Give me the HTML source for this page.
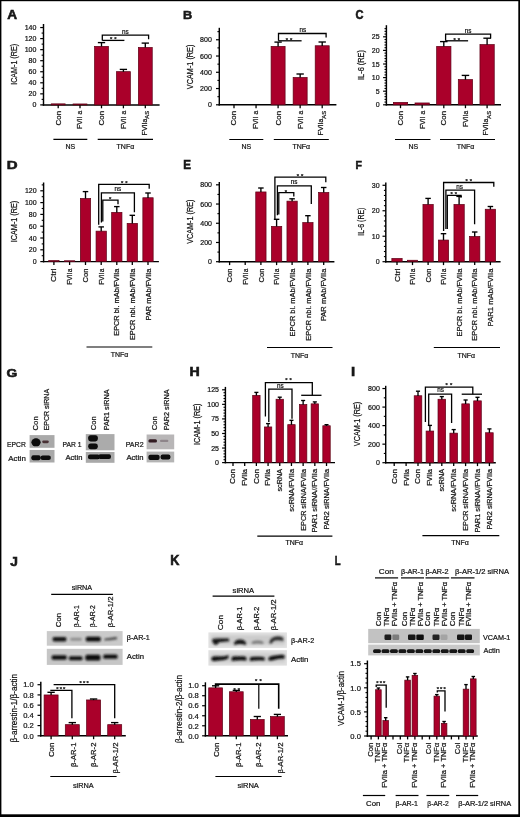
<!DOCTYPE html><html><head><meta charset="utf-8"><title>Figure</title><style>html,body{margin:0;padding:0;background:#fff;}svg{display:block;}text{font-family:"Liberation Sans", "DejaVu Sans", sans-serif;fill:#151515;stroke:#151515;stroke-width:0.22px;}</style></head><body>
<svg width="520" height="817" viewBox="0 0 520 817">
<defs>
<filter id="bl50" x="-30%" y="-60%" width="160%" height="220%"><feGaussianBlur stdDeviation="0.50"/></filter>
<filter id="bl55" x="-30%" y="-60%" width="160%" height="220%"><feGaussianBlur stdDeviation="0.55"/></filter>
<filter id="bl60" x="-30%" y="-60%" width="160%" height="220%"><feGaussianBlur stdDeviation="0.60"/></filter>
<filter id="bl80" x="-30%" y="-60%" width="160%" height="220%"><feGaussianBlur stdDeviation="0.80"/></filter>
<filter id="bl90" x="-30%" y="-60%" width="160%" height="220%"><feGaussianBlur stdDeviation="0.90"/></filter>
<filter id="bl120" x="-30%" y="-60%" width="160%" height="220%"><feGaussianBlur stdDeviation="1.20"/></filter>
<filter id="bl150" x="-30%" y="-60%" width="160%" height="220%"><feGaussianBlur stdDeviation="1.50"/></filter>
<filter id="gb" x="0" y="0" width="520" height="817" filterUnits="userSpaceOnUse"><feGaussianBlur stdDeviation="0.4"/></filter>
</defs>
<rect x="0" y="0" width="520" height="817" fill="#fff"/>
<g filter="url(#gb)">
<g>
<text transform="translate(7.18 19.05) scale(1.072 1)" font-size="12.75" font-weight="bold" style="stroke-width:0.55px">A</text>
<text transform="translate(17.3 64.4) rotate(-90)" font-size="8.5" text-anchor="middle" textLength="40.8" lengthAdjust="spacingAndGlyphs">ICAM-1 (RE)</text>
<path d="M43.5 24L43.5 105.62" stroke="#000" stroke-width="1.45"/>
<path d="M40.2 104.9L43.5 104.9" stroke="#000" stroke-width="1.2"/>
<text x="36.4" y="107.42" font-size="7" text-anchor="end">0</text>
<path d="M40.2 93.85L43.5 93.85" stroke="#000" stroke-width="1.2"/>
<text x="36.4" y="96.37" font-size="7" text-anchor="end">20</text>
<path d="M40.2 82.8L43.5 82.8" stroke="#000" stroke-width="1.2"/>
<text x="36.4" y="85.32" font-size="7" text-anchor="end">40</text>
<path d="M40.2 71.75L43.5 71.75" stroke="#000" stroke-width="1.2"/>
<text x="36.4" y="74.27" font-size="7" text-anchor="end">60</text>
<path d="M40.2 60.7L43.5 60.7" stroke="#000" stroke-width="1.2"/>
<text x="36.4" y="63.22" font-size="7" text-anchor="end">80</text>
<path d="M40.2 49.65L43.5 49.65" stroke="#000" stroke-width="1.2"/>
<text x="36.4" y="52.17" font-size="7" text-anchor="end">100</text>
<path d="M40.2 38.6L43.5 38.6" stroke="#000" stroke-width="1.2"/>
<text x="36.4" y="41.12" font-size="7" text-anchor="end">120</text>
<path d="M40.2 27.55L43.5 27.55" stroke="#000" stroke-width="1.2"/>
<text x="36.4" y="30.07" font-size="7" text-anchor="end">140</text>
<path d="M41.6 99.38L43.5 99.38" stroke="#000" stroke-width="1.1"/>
<path d="M41.6 88.33L43.5 88.33" stroke="#000" stroke-width="1.1"/>
<path d="M41.6 77.28L43.5 77.28" stroke="#000" stroke-width="1.1"/>
<path d="M41.6 66.23L43.5 66.23" stroke="#000" stroke-width="1.1"/>
<path d="M41.6 55.18L43.5 55.18" stroke="#000" stroke-width="1.1"/>
<path d="M41.6 44.13L43.5 44.13" stroke="#000" stroke-width="1.1"/>
<path d="M41.6 33.08L43.5 33.08" stroke="#000" stroke-width="1.1"/>
<path d="M42.77 104.9L159.6 104.9" stroke="#000" stroke-width="1.45"/>
<path d="M58.2 104.9L58.2 108.3" stroke="#000" stroke-width="1.3"/>
<path d="M80 104.9L80 108.3" stroke="#000" stroke-width="1.3"/>
<path d="M101.5 104.9L101.5 108.3" stroke="#000" stroke-width="1.3"/>
<path d="M123.4 104.9L123.4 108.3" stroke="#000" stroke-width="1.3"/>
<path d="M145.3 104.9L145.3 108.3" stroke="#000" stroke-width="1.3"/>
<rect x="51.25" y="103.85" width="13.9" height="1.05" fill="#aa032c" stroke="#5c0716" stroke-width="0.7"/>
<rect x="73.05" y="103.95" width="13.9" height="0.95" fill="#aa032c" stroke="#5c0716" stroke-width="0.7"/>
<rect x="94.55" y="46.35" width="13.9" height="58.55" fill="#aa032c" stroke="#5c0716" stroke-width="0.7"/>
<path d="M101.5 46.5L101.5 42.6" stroke="#000" stroke-width="1.35"/>
<path d="M97.85 42.6L105.15 42.6" stroke="#000" stroke-width="1.35"/>
<rect x="116.45" y="71.65" width="13.9" height="33.25" fill="#aa032c" stroke="#5c0716" stroke-width="0.7"/>
<path d="M123.4 71.8L123.4 69.4" stroke="#000" stroke-width="1.35"/>
<path d="M119.75 69.4L127.05 69.4" stroke="#000" stroke-width="1.35"/>
<rect x="138.35" y="47.45" width="13.9" height="57.45" fill="#aa032c" stroke="#5c0716" stroke-width="0.7"/>
<path d="M145.3 47.6L145.3 43.1" stroke="#000" stroke-width="1.35"/>
<path d="M141.65 43.1L148.95 43.1" stroke="#000" stroke-width="1.35"/>
<text transform="translate(60.6 110.8) rotate(-90)" font-size="7" text-anchor="end" textLength="14.6" lengthAdjust="spacingAndGlyphs">Con</text>
<text transform="translate(82.4 110.8) rotate(-90)" font-size="7" text-anchor="end" textLength="18.1" lengthAdjust="spacingAndGlyphs">FVII a</text>
<text transform="translate(103.9 110.8) rotate(-90)" font-size="7" text-anchor="end" textLength="14.6" lengthAdjust="spacingAndGlyphs">Con</text>
<text transform="translate(125.8 110.8) rotate(-90)" font-size="7" text-anchor="end" textLength="18.1" lengthAdjust="spacingAndGlyphs">FVII a</text>
<text transform="translate(146.5 110.8) rotate(-90)" font-size="7" text-anchor="end">FVIIa<tspan font-size="5.9" dy="2.6">AS</tspan></text>
<path d="M53.4 139.3L87.3 139.3" stroke="#000" stroke-width="1.2"/>
<path d="M97.7 139.3L153 139.3" stroke="#000" stroke-width="1.2"/>
<text x="70.3" y="148.6" font-size="7" text-anchor="middle">NS</text>
<text x="125.4" y="148.6" font-size="7" text-anchor="middle">TNF&#945;</text>
<path d="M102.3 40.4V35.1H148.6V39.2" stroke="#000" stroke-width="1.3" fill="none"/>
<path d="M102.3 40.4L124.4 40.4" stroke="#000" stroke-width="1.3"/>
<text x="125.4" y="33.5" font-size="6.3" text-anchor="middle">ns</text>
<text x="113.2" y="41.16" font-size="5.8" font-weight="bold" text-anchor="middle" textLength="6.6" lengthAdjust="spacing">**</text>
</g>
<g>
<text transform="translate(183.09 19.05) scale(1.085 1)" font-size="11.74" font-weight="bold" style="stroke-width:0.55px">B</text>
<text transform="translate(193 66.9) rotate(-90)" font-size="8.5" text-anchor="middle" textLength="44.6" lengthAdjust="spacingAndGlyphs">VCAM-1 (RE)</text>
<path d="M219.3 27.8L219.3 105.52" stroke="#000" stroke-width="1.45"/>
<path d="M216 104.8L219.3 104.8" stroke="#000" stroke-width="1.2"/>
<text x="211.8" y="107.32" font-size="7" text-anchor="end">0</text>
<path d="M216 88.54L219.3 88.54" stroke="#000" stroke-width="1.2"/>
<text x="211.8" y="91.06" font-size="7" text-anchor="end">200</text>
<path d="M216 72.28L219.3 72.28" stroke="#000" stroke-width="1.2"/>
<text x="211.8" y="74.8" font-size="7" text-anchor="end">400</text>
<path d="M216 56.02L219.3 56.02" stroke="#000" stroke-width="1.2"/>
<text x="211.8" y="58.54" font-size="7" text-anchor="end">600</text>
<path d="M216 39.76L219.3 39.76" stroke="#000" stroke-width="1.2"/>
<text x="211.8" y="42.28" font-size="7" text-anchor="end">800</text>
<path d="M217.4 96.67L219.3 96.67" stroke="#000" stroke-width="1.1"/>
<path d="M217.4 80.41L219.3 80.41" stroke="#000" stroke-width="1.1"/>
<path d="M217.4 64.15L219.3 64.15" stroke="#000" stroke-width="1.1"/>
<path d="M217.4 47.89L219.3 47.89" stroke="#000" stroke-width="1.1"/>
<path d="M217.4 31.63L219.3 31.63" stroke="#000" stroke-width="1.1"/>
<path d="M218.58 104.8L336.4 104.8" stroke="#000" stroke-width="1.45"/>
<path d="M234 104.8L234 108.2" stroke="#000" stroke-width="1.3"/>
<path d="M256.05 104.8L256.05 108.2" stroke="#000" stroke-width="1.3"/>
<path d="M278.1 104.8L278.1 108.2" stroke="#000" stroke-width="1.3"/>
<path d="M300.15 104.8L300.15 108.2" stroke="#000" stroke-width="1.3"/>
<path d="M322.2 104.8L322.2 108.2" stroke="#000" stroke-width="1.3"/>
<rect x="271.1" y="46.35" width="14" height="58.45" fill="#aa032c" stroke="#5c0716" stroke-width="0.7"/>
<path d="M278.1 46.5L278.1 42.1" stroke="#000" stroke-width="1.35"/>
<path d="M274.43 42.1L281.78 42.1" stroke="#000" stroke-width="1.35"/>
<rect x="293.15" y="77.45" width="14" height="27.35" fill="#aa032c" stroke="#5c0716" stroke-width="0.7"/>
<path d="M300.15 77.6L300.15 74" stroke="#000" stroke-width="1.35"/>
<path d="M296.47 74L303.82 74" stroke="#000" stroke-width="1.35"/>
<rect x="315.2" y="45.75" width="14" height="59.05" fill="#aa032c" stroke="#5c0716" stroke-width="0.7"/>
<path d="M322.2 45.9L322.2 42" stroke="#000" stroke-width="1.35"/>
<path d="M318.52 42L325.88 42" stroke="#000" stroke-width="1.35"/>
<text transform="translate(236.4 110.8) rotate(-90)" font-size="7" text-anchor="end" textLength="14.6" lengthAdjust="spacingAndGlyphs">Con</text>
<text transform="translate(258.45 110.8) rotate(-90)" font-size="7" text-anchor="end" textLength="18.1" lengthAdjust="spacingAndGlyphs">FVII a</text>
<text transform="translate(280.5 110.8) rotate(-90)" font-size="7" text-anchor="end" textLength="14.6" lengthAdjust="spacingAndGlyphs">Con</text>
<text transform="translate(302.55 110.8) rotate(-90)" font-size="7" text-anchor="end" textLength="18.1" lengthAdjust="spacingAndGlyphs">FVII a</text>
<text transform="translate(323.4 110.8) rotate(-90)" font-size="7" text-anchor="end">FVIIa<tspan font-size="5.9" dy="2.6">AS</tspan></text>
<path d="M229.3 139.5L263.3 139.5" stroke="#000" stroke-width="1.2"/>
<path d="M273.8 139.5L328.8 139.5" stroke="#000" stroke-width="1.2"/>
<text x="246.3" y="148.8" font-size="7" text-anchor="middle">NS</text>
<text x="301.3" y="148.8" font-size="7" text-anchor="middle">TNF&#945;</text>
<path d="M278.5 40.8V33.5H326.1V37.5" stroke="#000" stroke-width="1.3" fill="none"/>
<path d="M278.5 40.8L301.6 40.8" stroke="#000" stroke-width="1.3"/>
<text x="302.8" y="31.9" font-size="6.3" text-anchor="middle">ns</text>
<text x="289" y="41.56" font-size="5.8" font-weight="bold" text-anchor="middle" textLength="6.6" lengthAdjust="spacing">**</text>
</g>
<g>
<text transform="translate(355.51 19.15) scale(0.931 1)" font-size="11.88" font-weight="bold" style="stroke-width:0.55px">C</text>
<text transform="translate(364 65) rotate(-90)" font-size="8.5" text-anchor="middle" textLength="30" lengthAdjust="spacingAndGlyphs">IL-6 (RE)</text>
<path d="M386.4 25.2L386.4 105.52" stroke="#000" stroke-width="1.45"/>
<path d="M383.1 104.8L386.4 104.8" stroke="#000" stroke-width="1.2"/>
<text x="379.6" y="107.32" font-size="7" text-anchor="end">0</text>
<path d="M383.1 91.2L386.4 91.2" stroke="#000" stroke-width="1.2"/>
<text x="379.6" y="93.72" font-size="7" text-anchor="end">5</text>
<path d="M383.1 77.6L386.4 77.6" stroke="#000" stroke-width="1.2"/>
<text x="379.6" y="80.12" font-size="7" text-anchor="end">10</text>
<path d="M383.1 64L386.4 64" stroke="#000" stroke-width="1.2"/>
<text x="379.6" y="66.52" font-size="7" text-anchor="end">15</text>
<path d="M383.1 50.4L386.4 50.4" stroke="#000" stroke-width="1.2"/>
<text x="379.6" y="52.92" font-size="7" text-anchor="end">20</text>
<path d="M383.1 36.8L386.4 36.8" stroke="#000" stroke-width="1.2"/>
<text x="379.6" y="39.32" font-size="7" text-anchor="end">25</text>
<path d="M384.5 102.08L386.4 102.08" stroke="#000" stroke-width="1.1"/>
<path d="M384.5 99.36L386.4 99.36" stroke="#000" stroke-width="1.1"/>
<path d="M384.5 96.64L386.4 96.64" stroke="#000" stroke-width="1.1"/>
<path d="M384.5 93.92L386.4 93.92" stroke="#000" stroke-width="1.1"/>
<path d="M384.5 88.48L386.4 88.48" stroke="#000" stroke-width="1.1"/>
<path d="M384.5 85.76L386.4 85.76" stroke="#000" stroke-width="1.1"/>
<path d="M384.5 83.04L386.4 83.04" stroke="#000" stroke-width="1.1"/>
<path d="M384.5 80.32L386.4 80.32" stroke="#000" stroke-width="1.1"/>
<path d="M384.5 74.88L386.4 74.88" stroke="#000" stroke-width="1.1"/>
<path d="M384.5 72.16L386.4 72.16" stroke="#000" stroke-width="1.1"/>
<path d="M384.5 69.44L386.4 69.44" stroke="#000" stroke-width="1.1"/>
<path d="M384.5 66.72L386.4 66.72" stroke="#000" stroke-width="1.1"/>
<path d="M384.5 61.28L386.4 61.28" stroke="#000" stroke-width="1.1"/>
<path d="M384.5 58.56L386.4 58.56" stroke="#000" stroke-width="1.1"/>
<path d="M384.5 55.84L386.4 55.84" stroke="#000" stroke-width="1.1"/>
<path d="M384.5 53.12L386.4 53.12" stroke="#000" stroke-width="1.1"/>
<path d="M384.5 47.68L386.4 47.68" stroke="#000" stroke-width="1.1"/>
<path d="M384.5 44.96L386.4 44.96" stroke="#000" stroke-width="1.1"/>
<path d="M384.5 42.24L386.4 42.24" stroke="#000" stroke-width="1.1"/>
<path d="M384.5 39.52L386.4 39.52" stroke="#000" stroke-width="1.1"/>
<path d="M384.5 34.08L386.4 34.08" stroke="#000" stroke-width="1.1"/>
<path d="M384.5 31.36L386.4 31.36" stroke="#000" stroke-width="1.1"/>
<path d="M384.5 28.64L386.4 28.64" stroke="#000" stroke-width="1.1"/>
<path d="M385.67 104.8L501 104.8" stroke="#000" stroke-width="1.45"/>
<path d="M400.5 104.8L400.5 108.2" stroke="#000" stroke-width="1.3"/>
<path d="M422.15 104.8L422.15 108.2" stroke="#000" stroke-width="1.3"/>
<path d="M443.8 104.8L443.8 108.2" stroke="#000" stroke-width="1.3"/>
<path d="M465.45 104.8L465.45 108.2" stroke="#000" stroke-width="1.3"/>
<path d="M487.1 104.8L487.1 108.2" stroke="#000" stroke-width="1.3"/>
<rect x="393.35" y="102.35" width="14.3" height="2.45" fill="#aa032c" stroke="#5c0716" stroke-width="0.7"/>
<rect x="415" y="102.95" width="14.3" height="1.85" fill="#aa032c" stroke="#5c0716" stroke-width="0.7"/>
<rect x="436.65" y="46.35" width="14.3" height="58.45" fill="#aa032c" stroke="#5c0716" stroke-width="0.7"/>
<path d="M443.8 46.5L443.8 41.6" stroke="#000" stroke-width="1.35"/>
<path d="M440.05 41.6L447.55 41.6" stroke="#000" stroke-width="1.35"/>
<rect x="458.3" y="79.55" width="14.3" height="25.25" fill="#aa032c" stroke="#5c0716" stroke-width="0.7"/>
<path d="M465.45 79.7L465.45 75.4" stroke="#000" stroke-width="1.35"/>
<path d="M461.7 75.4L469.2 75.4" stroke="#000" stroke-width="1.35"/>
<rect x="479.95" y="44.55" width="14.3" height="60.25" fill="#aa032c" stroke="#5c0716" stroke-width="0.7"/>
<path d="M487.1 44.7L487.1 38.2" stroke="#000" stroke-width="1.35"/>
<path d="M483.35 38.2L490.85 38.2" stroke="#000" stroke-width="1.35"/>
<text transform="translate(402.9 110.8) rotate(-90)" font-size="7" text-anchor="end" textLength="14.6" lengthAdjust="spacingAndGlyphs">Con</text>
<text transform="translate(424.55 110.8) rotate(-90)" font-size="7" text-anchor="end" textLength="18.1" lengthAdjust="spacingAndGlyphs">FVII a</text>
<text transform="translate(446.2 110.8) rotate(-90)" font-size="7" text-anchor="end" textLength="14.6" lengthAdjust="spacingAndGlyphs">Con</text>
<text transform="translate(467.85 110.8) rotate(-90)" font-size="7" text-anchor="end" textLength="16.2" lengthAdjust="spacingAndGlyphs">FVIIa</text>
<text transform="translate(488.3 110.8) rotate(-90)" font-size="7" text-anchor="end">FVIIa<tspan font-size="5.9" dy="2.6">AS</tspan></text>
<path d="M395 139.5L430.5 139.5" stroke="#000" stroke-width="1.2"/>
<path d="M440 139.5L495 139.5" stroke="#000" stroke-width="1.2"/>
<text x="413.3" y="148.8" font-size="7" text-anchor="middle">NS</text>
<text x="465.5" y="148.8" font-size="7" text-anchor="middle">TNF&#945;</text>
<path d="M445.6 40.8V34.2H490.6V38.4" stroke="#000" stroke-width="1.3" fill="none"/>
<path d="M445.6 40.8L468.1 40.8" stroke="#000" stroke-width="1.3"/>
<text x="468" y="32.6" font-size="6.3" text-anchor="middle">ns</text>
<text x="456.8" y="41.56" font-size="5.8" font-weight="bold" text-anchor="middle" textLength="6.6" lengthAdjust="spacing">**</text>
</g>
<g>
<text transform="translate(6.75 168.65) scale(1.278 1)" font-size="11.74" font-weight="bold" style="stroke-width:0.55px">D</text>
<text transform="translate(17 221.5) rotate(-90)" font-size="8.5" text-anchor="middle" textLength="41.5" lengthAdjust="spacingAndGlyphs">ICAM-1 (RE)</text>
<path d="M43.6 182.5L43.6 262.33" stroke="#000" stroke-width="1.45"/>
<path d="M40.3 261.6L43.6 261.6" stroke="#000" stroke-width="1.2"/>
<text x="36.6" y="264.12" font-size="7" text-anchor="end">0</text>
<path d="M40.3 249.8L43.6 249.8" stroke="#000" stroke-width="1.2"/>
<text x="36.6" y="252.32" font-size="7" text-anchor="end">20</text>
<path d="M40.3 238L43.6 238" stroke="#000" stroke-width="1.2"/>
<text x="36.6" y="240.52" font-size="7" text-anchor="end">40</text>
<path d="M40.3 226.2L43.6 226.2" stroke="#000" stroke-width="1.2"/>
<text x="36.6" y="228.72" font-size="7" text-anchor="end">60</text>
<path d="M40.3 214.4L43.6 214.4" stroke="#000" stroke-width="1.2"/>
<text x="36.6" y="216.92" font-size="7" text-anchor="end">80</text>
<path d="M40.3 202.6L43.6 202.6" stroke="#000" stroke-width="1.2"/>
<text x="36.6" y="205.12" font-size="7" text-anchor="end">100</text>
<path d="M40.3 190.8L43.6 190.8" stroke="#000" stroke-width="1.2"/>
<text x="36.6" y="193.32" font-size="7" text-anchor="end">120</text>
<path d="M41.7 255.7L43.6 255.7" stroke="#000" stroke-width="1.1"/>
<path d="M41.7 243.9L43.6 243.9" stroke="#000" stroke-width="1.1"/>
<path d="M41.7 232.1L43.6 232.1" stroke="#000" stroke-width="1.1"/>
<path d="M41.7 220.3L43.6 220.3" stroke="#000" stroke-width="1.1"/>
<path d="M41.7 208.5L43.6 208.5" stroke="#000" stroke-width="1.1"/>
<path d="M41.7 196.7L43.6 196.7" stroke="#000" stroke-width="1.1"/>
<path d="M41.7 184.9L43.6 184.9" stroke="#000" stroke-width="1.1"/>
<path d="M42.88 261.6L158.9 261.6" stroke="#000" stroke-width="1.45"/>
<path d="M53.9 261.6L53.9 265" stroke="#000" stroke-width="1.3"/>
<path d="M69.6 261.6L69.6 265" stroke="#000" stroke-width="1.3"/>
<path d="M85.5 261.6L85.5 265" stroke="#000" stroke-width="1.3"/>
<path d="M101.2 261.6L101.2 265" stroke="#000" stroke-width="1.3"/>
<path d="M116.8 261.6L116.8 265" stroke="#000" stroke-width="1.3"/>
<path d="M132.3 261.6L132.3 265" stroke="#000" stroke-width="1.3"/>
<path d="M148 261.6L148 265" stroke="#000" stroke-width="1.3"/>
<rect x="48.75" y="260.55" width="10.3" height="1.05" fill="#aa032c" stroke="#5c0716" stroke-width="0.7"/>
<rect x="64.45" y="260.75" width="10.3" height="0.85" fill="#aa032c" stroke="#5c0716" stroke-width="0.7"/>
<rect x="80.35" y="198.45" width="10.3" height="63.15" fill="#aa032c" stroke="#5c0716" stroke-width="0.7"/>
<path d="M85.5 198.6L85.5 191.6" stroke="#000" stroke-width="1.35"/>
<path d="M82.75 191.6L88.25 191.6" stroke="#000" stroke-width="1.35"/>
<rect x="96.05" y="231.15" width="10.3" height="30.45" fill="#aa032c" stroke="#5c0716" stroke-width="0.7"/>
<path d="M101.2 231.3L101.2 226.9" stroke="#000" stroke-width="1.35"/>
<path d="M98.45 226.9L103.95 226.9" stroke="#000" stroke-width="1.35"/>
<rect x="111.65" y="212.35" width="10.3" height="49.25" fill="#aa032c" stroke="#5c0716" stroke-width="0.7"/>
<path d="M116.8 212.5L116.8 206.6" stroke="#000" stroke-width="1.35"/>
<path d="M114.05 206.6L119.55 206.6" stroke="#000" stroke-width="1.35"/>
<rect x="127.15" y="223.35" width="10.3" height="38.25" fill="#aa032c" stroke="#5c0716" stroke-width="0.7"/>
<path d="M132.3 223.5L132.3 215.3" stroke="#000" stroke-width="1.35"/>
<path d="M129.55 215.3L135.05 215.3" stroke="#000" stroke-width="1.35"/>
<rect x="142.85" y="197.75" width="10.3" height="63.85" fill="#aa032c" stroke="#5c0716" stroke-width="0.7"/>
<path d="M148 197.9L148 193" stroke="#000" stroke-width="1.35"/>
<path d="M145.25 193L150.75 193" stroke="#000" stroke-width="1.35"/>
<text transform="translate(56.4 268.6) rotate(-90)" font-size="7.2" text-anchor="end" textLength="13.3" lengthAdjust="spacingAndGlyphs">Ctrl</text>
<text transform="translate(72.1 268.6) rotate(-90)" font-size="7.2" text-anchor="end" textLength="16.2" lengthAdjust="spacingAndGlyphs">FVIIa</text>
<text transform="translate(88 268.6) rotate(-90)" font-size="7.2" text-anchor="end" textLength="13.9" lengthAdjust="spacingAndGlyphs">Con</text>
<text transform="translate(103.7 268.6) rotate(-90)" font-size="7.2" text-anchor="end" textLength="16.2" lengthAdjust="spacingAndGlyphs">FVIIa</text>
<text transform="translate(119.3 268.6) rotate(-90)" font-size="7.2" text-anchor="end" textLength="67.2" lengthAdjust="spacingAndGlyphs">EPCR bl. mAb/FVIIa</text>
<text transform="translate(134.8 268.6) rotate(-90)" font-size="7.2" text-anchor="end" textLength="71.5" lengthAdjust="spacingAndGlyphs">EPCR nbl. mAb/FVIIa</text>
<text transform="translate(150.5 268.6) rotate(-90)" font-size="7.2" text-anchor="end" textLength="51.9" lengthAdjust="spacingAndGlyphs">PAR mAb/FVIIa</text>
<path d="M86.5 347L152.3 347" stroke="#000" stroke-width="1.2"/>
<text x="119.5" y="357.4" font-size="7" text-anchor="middle">TNF&#945;</text>
<path d="M98.7 224.8V184.4H149.2V188.7" stroke="#000" stroke-width="1.3" fill="none"/>
<path d="M101.4 222.5V192.9H134.4V212.2" stroke="#000" stroke-width="1.3" fill="none"/>
<path d="M102.8 221.5V200.2H118.0V204.2" stroke="#000" stroke-width="1.3" fill="none"/>
<text x="124.2" y="185.06" font-size="5.8" font-weight="bold" text-anchor="middle" textLength="6.6" lengthAdjust="spacing">**</text>
<text x="117.8" y="190.8" font-size="6.3" text-anchor="middle">ns</text>
<text x="110.1" y="200.86" font-size="5.8" font-weight="bold" text-anchor="middle" textLength="3.3" lengthAdjust="spacing">*</text>
</g>
<g>
<text transform="translate(183.16 169.05) scale(0.963 1)" font-size="12.03" font-weight="bold" style="stroke-width:0.55px">E</text>
<text transform="translate(192.8 221.7) rotate(-90)" font-size="8.5" text-anchor="middle" textLength="44.2" lengthAdjust="spacingAndGlyphs">VCAM-1 (RE)</text>
<path d="M219.3 182L219.3 262.43" stroke="#000" stroke-width="1.45"/>
<path d="M216 261.7L219.3 261.7" stroke="#000" stroke-width="1.2"/>
<text x="212" y="264.22" font-size="7" text-anchor="end">0</text>
<path d="M216 242.48L219.3 242.48" stroke="#000" stroke-width="1.2"/>
<text x="212" y="245" font-size="7" text-anchor="end">200</text>
<path d="M216 223.26L219.3 223.26" stroke="#000" stroke-width="1.2"/>
<text x="212" y="225.78" font-size="7" text-anchor="end">400</text>
<path d="M216 204.04L219.3 204.04" stroke="#000" stroke-width="1.2"/>
<text x="212" y="206.56" font-size="7" text-anchor="end">600</text>
<path d="M216 184.82L219.3 184.82" stroke="#000" stroke-width="1.2"/>
<text x="212" y="187.34" font-size="7" text-anchor="end">800</text>
<path d="M217.4 252.09L219.3 252.09" stroke="#000" stroke-width="1.1"/>
<path d="M217.4 232.87L219.3 232.87" stroke="#000" stroke-width="1.1"/>
<path d="M217.4 213.65L219.3 213.65" stroke="#000" stroke-width="1.1"/>
<path d="M217.4 194.43L219.3 194.43" stroke="#000" stroke-width="1.1"/>
<path d="M218.58 261.7L334.4 261.7" stroke="#000" stroke-width="1.45"/>
<path d="M229.6 261.7L229.6 265.1" stroke="#000" stroke-width="1.3"/>
<path d="M245.2 261.7L245.2 265.1" stroke="#000" stroke-width="1.3"/>
<path d="M260.9 261.7L260.9 265.1" stroke="#000" stroke-width="1.3"/>
<path d="M276.6 261.7L276.6 265.1" stroke="#000" stroke-width="1.3"/>
<path d="M292.1 261.7L292.1 265.1" stroke="#000" stroke-width="1.3"/>
<path d="M307.9 261.7L307.9 265.1" stroke="#000" stroke-width="1.3"/>
<path d="M323.7 261.7L323.7 265.1" stroke="#000" stroke-width="1.3"/>
<rect x="255.75" y="191.95" width="10.3" height="69.75" fill="#aa032c" stroke="#5c0716" stroke-width="0.7"/>
<path d="M260.9 192.1L260.9 188" stroke="#000" stroke-width="1.35"/>
<path d="M258.15 188L263.65 188" stroke="#000" stroke-width="1.35"/>
<rect x="271.45" y="226.35" width="10.3" height="35.35" fill="#aa032c" stroke="#5c0716" stroke-width="0.7"/>
<path d="M276.6 226.5L276.6 219.3" stroke="#000" stroke-width="1.35"/>
<path d="M273.85 219.3L279.35 219.3" stroke="#000" stroke-width="1.35"/>
<rect x="286.95" y="201.15" width="10.3" height="60.55" fill="#aa032c" stroke="#5c0716" stroke-width="0.7"/>
<path d="M292.1 201.3L292.1 198.8" stroke="#000" stroke-width="1.35"/>
<path d="M289.35 198.8L294.85 198.8" stroke="#000" stroke-width="1.35"/>
<rect x="302.75" y="222.55" width="10.3" height="39.15" fill="#aa032c" stroke="#5c0716" stroke-width="0.7"/>
<path d="M307.9 222.7L307.9 215.7" stroke="#000" stroke-width="1.35"/>
<path d="M305.15 215.7L310.65 215.7" stroke="#000" stroke-width="1.35"/>
<rect x="318.55" y="192.45" width="10.3" height="69.25" fill="#aa032c" stroke="#5c0716" stroke-width="0.7"/>
<path d="M323.7 192.6L323.7 187.5" stroke="#000" stroke-width="1.35"/>
<path d="M320.95 187.5L326.45 187.5" stroke="#000" stroke-width="1.35"/>
<text transform="translate(232.2 268.6) rotate(-90)" font-size="7.2" text-anchor="end" textLength="13.9" lengthAdjust="spacingAndGlyphs">Con</text>
<text transform="translate(247.8 268.6) rotate(-90)" font-size="7.2" text-anchor="end" textLength="16.2" lengthAdjust="spacingAndGlyphs">FVIIa</text>
<text transform="translate(263.5 268.6) rotate(-90)" font-size="7.2" text-anchor="end" textLength="13.9" lengthAdjust="spacingAndGlyphs">Con</text>
<text transform="translate(279.2 268.6) rotate(-90)" font-size="7.2" text-anchor="end" textLength="16.2" lengthAdjust="spacingAndGlyphs">FVIIa</text>
<text transform="translate(294.7 268.6) rotate(-90)" font-size="7.2" text-anchor="end" textLength="67.8" lengthAdjust="spacingAndGlyphs">EPCR bl. mAb/FVIIa</text>
<text transform="translate(310.5 268.6) rotate(-90)" font-size="7.2" text-anchor="end" textLength="72.1" lengthAdjust="spacingAndGlyphs">EPCR nbl. mAb/FVIIa</text>
<text transform="translate(326.3 268.6) rotate(-90)" font-size="7.2" text-anchor="end" textLength="52.5" lengthAdjust="spacingAndGlyphs">PAR mAb/FVIIa</text>
<path d="M267 347.5L332.5 347.5" stroke="#000" stroke-width="1.2"/>
<text x="299.5" y="357.6" font-size="7" text-anchor="middle">TNF&#945;</text>
<path d="M274.9 219.4V177.2H325.8V182.2" stroke="#000" stroke-width="1.3" fill="none"/>
<path d="M277.4 215.2V185.8H311.3V203.9" stroke="#000" stroke-width="1.3" fill="none"/>
<path d="M278.8 214.4V192.6H293.8V196.6" stroke="#000" stroke-width="1.3" fill="none"/>
<text x="300" y="177.86" font-size="5.8" font-weight="bold" text-anchor="middle" textLength="6.6" lengthAdjust="spacing">**</text>
<text x="294" y="184.3" font-size="6.3" text-anchor="middle">ns</text>
<text x="286" y="193.96" font-size="5.8" font-weight="bold" text-anchor="middle" textLength="3.3" lengthAdjust="spacing">*</text>
</g>
<g>
<text transform="translate(355.62 169.05) scale(0.901 1)" font-size="11.74" font-weight="bold" style="stroke-width:0.55px">F</text>
<text transform="translate(364 221.7) rotate(-90)" font-size="8.5" text-anchor="middle" textLength="28.1" lengthAdjust="spacingAndGlyphs">IL-6 (RE)</text>
<path d="M385.8 182.5L385.8 262.43" stroke="#000" stroke-width="1.45"/>
<path d="M382.5 261.7L385.8 261.7" stroke="#000" stroke-width="1.2"/>
<text x="379.6" y="264.22" font-size="7" text-anchor="end">0</text>
<path d="M382.5 236.23L385.8 236.23" stroke="#000" stroke-width="1.2"/>
<text x="379.6" y="238.75" font-size="7" text-anchor="end">10</text>
<path d="M382.5 210.76L385.8 210.76" stroke="#000" stroke-width="1.2"/>
<text x="379.6" y="213.28" font-size="7" text-anchor="end">20</text>
<path d="M382.5 185.29L385.8 185.29" stroke="#000" stroke-width="1.2"/>
<text x="379.6" y="187.81" font-size="7" text-anchor="end">30</text>
<path d="M383.9 256.61L385.8 256.61" stroke="#000" stroke-width="1.1"/>
<path d="M383.9 251.51L385.8 251.51" stroke="#000" stroke-width="1.1"/>
<path d="M383.9 246.42L385.8 246.42" stroke="#000" stroke-width="1.1"/>
<path d="M383.9 241.32L385.8 241.32" stroke="#000" stroke-width="1.1"/>
<path d="M383.9 231.14L385.8 231.14" stroke="#000" stroke-width="1.1"/>
<path d="M383.9 226.04L385.8 226.04" stroke="#000" stroke-width="1.1"/>
<path d="M383.9 220.95L385.8 220.95" stroke="#000" stroke-width="1.1"/>
<path d="M383.9 215.85L385.8 215.85" stroke="#000" stroke-width="1.1"/>
<path d="M383.9 205.67L385.8 205.67" stroke="#000" stroke-width="1.1"/>
<path d="M383.9 200.57L385.8 200.57" stroke="#000" stroke-width="1.1"/>
<path d="M383.9 195.48L385.8 195.48" stroke="#000" stroke-width="1.1"/>
<path d="M383.9 190.38L385.8 190.38" stroke="#000" stroke-width="1.1"/>
<path d="M385.07 261.7L500.6 261.7" stroke="#000" stroke-width="1.45"/>
<path d="M397 261.7L397 265.1" stroke="#000" stroke-width="1.3"/>
<path d="M412.5 261.7L412.5 265.1" stroke="#000" stroke-width="1.3"/>
<path d="M428.1 261.7L428.1 265.1" stroke="#000" stroke-width="1.3"/>
<path d="M443.5 261.7L443.5 265.1" stroke="#000" stroke-width="1.3"/>
<path d="M459.1 261.7L459.1 265.1" stroke="#000" stroke-width="1.3"/>
<path d="M474.7 261.7L474.7 265.1" stroke="#000" stroke-width="1.3"/>
<path d="M490.4 261.7L490.4 265.1" stroke="#000" stroke-width="1.3"/>
<rect x="391.85" y="258.45" width="10.3" height="3.25" fill="#aa032c" stroke="#5c0716" stroke-width="0.7"/>
<rect x="407.35" y="260.25" width="10.3" height="1.45" fill="#aa032c" stroke="#5c0716" stroke-width="0.7"/>
<rect x="422.95" y="204.45" width="10.3" height="57.25" fill="#aa032c" stroke="#5c0716" stroke-width="0.7"/>
<path d="M428.1 204.6L428.1 198.4" stroke="#000" stroke-width="1.35"/>
<path d="M425.35 198.4L430.85 198.4" stroke="#000" stroke-width="1.35"/>
<rect x="438.35" y="240.05" width="10.3" height="21.65" fill="#aa032c" stroke="#5c0716" stroke-width="0.7"/>
<path d="M443.5 240.2L443.5 233.7" stroke="#000" stroke-width="1.35"/>
<path d="M440.75 233.7L446.25 233.7" stroke="#000" stroke-width="1.35"/>
<rect x="453.95" y="204.45" width="10.3" height="57.25" fill="#aa032c" stroke="#5c0716" stroke-width="0.7"/>
<path d="M459.1 204.6L459.1 196.4" stroke="#000" stroke-width="1.35"/>
<path d="M456.35 196.4L461.85 196.4" stroke="#000" stroke-width="1.35"/>
<rect x="469.55" y="236.45" width="10.3" height="25.25" fill="#aa032c" stroke="#5c0716" stroke-width="0.7"/>
<path d="M474.7 236.6L474.7 232" stroke="#000" stroke-width="1.35"/>
<path d="M471.95 232L477.45 232" stroke="#000" stroke-width="1.35"/>
<rect x="485.25" y="209.25" width="10.3" height="52.45" fill="#aa032c" stroke="#5c0716" stroke-width="0.7"/>
<path d="M490.4 209.4L490.4 206.5" stroke="#000" stroke-width="1.35"/>
<path d="M487.65 206.5L493.15 206.5" stroke="#000" stroke-width="1.35"/>
<text transform="translate(399.6 268.6) rotate(-90)" font-size="7.2" text-anchor="end" textLength="13.3" lengthAdjust="spacingAndGlyphs">Ctrl</text>
<text transform="translate(415.1 268.6) rotate(-90)" font-size="7.2" text-anchor="end" textLength="16.2" lengthAdjust="spacingAndGlyphs">FVIIa</text>
<text transform="translate(430.7 268.6) rotate(-90)" font-size="7.2" text-anchor="end" textLength="13.9" lengthAdjust="spacingAndGlyphs">Con</text>
<text transform="translate(446.1 268.6) rotate(-90)" font-size="7.2" text-anchor="end" textLength="16.2" lengthAdjust="spacingAndGlyphs">FVIIa</text>
<text transform="translate(461.7 268.6) rotate(-90)" font-size="7.2" text-anchor="end" textLength="67.8" lengthAdjust="spacingAndGlyphs">EPCR bl. mAb/FVIIa</text>
<text transform="translate(477.3 268.6) rotate(-90)" font-size="7.2" text-anchor="end" textLength="72.1" lengthAdjust="spacingAndGlyphs">EPCR nbl. mAb/FVIIa</text>
<text transform="translate(493 268.6) rotate(-90)" font-size="7.2" text-anchor="end" textLength="57.8" lengthAdjust="spacingAndGlyphs">PAR1 mAb/FVIIa</text>
<path d="M433.8 347.5L500 347.5" stroke="#000" stroke-width="1.2"/>
<text x="466.3" y="357.6" font-size="7" text-anchor="middle">TNF&#945;</text>
<path d="M443.6 231V182.5H493.8V186.8" stroke="#000" stroke-width="1.3" fill="none"/>
<path d="M445.9 229V190.2H474.6V224.2" stroke="#000" stroke-width="1.3" fill="none"/>
<path d="M447.3 229V195.4H461V197.8" stroke="#000" stroke-width="1.3" fill="none"/>
<text x="468.8" y="182.96" font-size="5.8" font-weight="bold" text-anchor="middle" textLength="6.6" lengthAdjust="spacing">**</text>
<text x="459.7" y="188.9" font-size="6.3" text-anchor="middle">ns</text>
<text x="453.7" y="196.16" font-size="5.8" font-weight="bold" text-anchor="middle" textLength="6.6" lengthAdjust="spacing">**</text>
</g>
<g>
<text transform="translate(6.5 376.65) scale(1.178 1)" font-size="11.74" font-weight="bold" style="stroke-width:0.55px">G</text>
<text transform="translate(37.6 430.5) rotate(-90)" font-size="7.2" textLength="14.2" lengthAdjust="spacingAndGlyphs">Con</text>
<text transform="translate(48.8 430.5) rotate(-90)" font-size="7.2" textLength="41.6" lengthAdjust="spacingAndGlyphs">EPCR siRNA</text>
<rect x="29.6" y="435.1" width="24.9" height="12.7" fill="#a9a9a9"/>
<rect x="29.6" y="450" width="24.9" height="12.5" fill="#a9a9a9"/>
<g filter="url(#bl50)">
<ellipse cx="36.0" cy="442.3" rx="4.6" ry="4.0" fill="#080808"/>
<rect x="42.2" y="440.5" width="6.6" height="2.7" rx="1.35" fill="#4a3036"/>
<rect x="31.4" y="455.2" width="9.2" height="5" rx="2" fill="#0a0a0a"/>
<rect x="40.6" y="455.4" width="10.2" height="4.6" rx="2" fill="#0a0a0a"/>
</g>
<text x="25.8" y="446.8" font-size="7.4" text-anchor="end" textLength="18.8" lengthAdjust="spacingAndGlyphs">EPCR</text>
<text x="25.8" y="461" font-size="7.4" text-anchor="end" textLength="17.6" lengthAdjust="spacingAndGlyphs">Actin</text>
<text transform="translate(96.2 430.3) rotate(-90)" font-size="7.2" textLength="14" lengthAdjust="spacingAndGlyphs">Con</text>
<text transform="translate(109 430.3) rotate(-90)" font-size="7.2" textLength="40.8" lengthAdjust="spacingAndGlyphs">PAR1 siRNA</text>
<rect x="85.8" y="434.1" width="28.7" height="16.2" fill="#ababab"/>
<rect x="85.8" y="452" width="28.7" height="10.8" fill="#a9a9a9"/>
<g filter="url(#bl50)">
<rect x="88.2" y="435.2" width="9.6" height="6.2" rx="2.4" fill="#080808"/>
<rect x="88.2" y="443.6" width="9.6" height="5.6" rx="2.4" fill="#080808"/>
<rect x="88" y="454.4" width="11.8" height="4.8" rx="2" fill="#080808"/>
<rect x="98.4" y="454.2" width="12.6" height="4.8" rx="2" fill="#0a0a0a"/>
</g>
<text x="81.6" y="446.9" font-size="7.4" text-anchor="end" textLength="19" lengthAdjust="spacingAndGlyphs">PAR 1</text>
<text x="82.4" y="460.4" font-size="7.4" text-anchor="end" textLength="17" lengthAdjust="spacingAndGlyphs">Actin</text>
<text transform="translate(156.9 430.3) rotate(-90)" font-size="7.2" textLength="14" lengthAdjust="spacingAndGlyphs">Con</text>
<text transform="translate(169.4 430.3) rotate(-90)" font-size="7.2" textLength="40.8" lengthAdjust="spacingAndGlyphs">PAR2 siRNA</text>
<rect x="146.6" y="434.5" width="27.6" height="14.8" fill="#b8b6b7"/>
<rect x="146.6" y="451.6" width="27.6" height="10.8" fill="#b4b4b4"/>
<g filter="url(#bl50)">
<rect x="148.4" y="439.3" width="8.6" height="3.2" rx="1.6" fill="#301a20"/>
<rect x="160" y="439.8" width="8.4" height="2.2" rx="1.1" fill="#8e858a"/>
<rect x="148.4" y="454.8" width="11.2" height="5.1" rx="2" fill="#080808"/>
<rect x="160.6" y="454.6" width="9.8" height="5" rx="2" fill="#080808"/>
</g>
<text x="143.6" y="446.9" font-size="7.4" text-anchor="end" textLength="17.9" lengthAdjust="spacingAndGlyphs">PAR2</text>
<text x="143.5" y="460.4" font-size="7.4" text-anchor="end" textLength="17.1" lengthAdjust="spacingAndGlyphs">Actin</text>
</g>
<g>
<text transform="translate(189.5 376.25) scale(1.192 1)" font-size="11.88" font-weight="bold" style="stroke-width:0.55px">H</text>
<text transform="translate(199.5 424.3) rotate(-90)" font-size="8.5" text-anchor="middle" textLength="41.5" lengthAdjust="spacingAndGlyphs">ICAM-1 (RE)</text>
<path d="M225.4 386.9L225.4 463.33" stroke="#000" stroke-width="1.45"/>
<path d="M222.1 462.6L225.4 462.6" stroke="#000" stroke-width="1.2"/>
<text x="219" y="465.12" font-size="7" text-anchor="end">0</text>
<path d="M222.1 448.04L225.4 448.04" stroke="#000" stroke-width="1.2"/>
<text x="219" y="450.56" font-size="7" text-anchor="end">25</text>
<path d="M222.1 433.48L225.4 433.48" stroke="#000" stroke-width="1.2"/>
<text x="219" y="436" font-size="7" text-anchor="end">50</text>
<path d="M222.1 418.91L225.4 418.91" stroke="#000" stroke-width="1.2"/>
<text x="219" y="421.43" font-size="7" text-anchor="end">75</text>
<path d="M222.1 404.35L225.4 404.35" stroke="#000" stroke-width="1.2"/>
<text x="219" y="406.87" font-size="7" text-anchor="end">100</text>
<path d="M222.1 389.79L225.4 389.79" stroke="#000" stroke-width="1.2"/>
<text x="219" y="392.31" font-size="7" text-anchor="end">125</text>
<path d="M223.5 459.69L225.4 459.69" stroke="#000" stroke-width="1.1"/>
<path d="M223.5 456.78L225.4 456.78" stroke="#000" stroke-width="1.1"/>
<path d="M223.5 453.86L225.4 453.86" stroke="#000" stroke-width="1.1"/>
<path d="M223.5 450.95L225.4 450.95" stroke="#000" stroke-width="1.1"/>
<path d="M223.5 445.12L225.4 445.12" stroke="#000" stroke-width="1.1"/>
<path d="M223.5 442.21L225.4 442.21" stroke="#000" stroke-width="1.1"/>
<path d="M223.5 439.3L225.4 439.3" stroke="#000" stroke-width="1.1"/>
<path d="M223.5 436.39L225.4 436.39" stroke="#000" stroke-width="1.1"/>
<path d="M223.5 430.56L225.4 430.56" stroke="#000" stroke-width="1.1"/>
<path d="M223.5 427.65L225.4 427.65" stroke="#000" stroke-width="1.1"/>
<path d="M223.5 424.74L225.4 424.74" stroke="#000" stroke-width="1.1"/>
<path d="M223.5 421.83L225.4 421.83" stroke="#000" stroke-width="1.1"/>
<path d="M223.5 416L225.4 416" stroke="#000" stroke-width="1.1"/>
<path d="M223.5 413.09L225.4 413.09" stroke="#000" stroke-width="1.1"/>
<path d="M223.5 410.18L225.4 410.18" stroke="#000" stroke-width="1.1"/>
<path d="M223.5 407.26L225.4 407.26" stroke="#000" stroke-width="1.1"/>
<path d="M223.5 401.44L225.4 401.44" stroke="#000" stroke-width="1.1"/>
<path d="M223.5 398.53L225.4 398.53" stroke="#000" stroke-width="1.1"/>
<path d="M223.5 395.61L225.4 395.61" stroke="#000" stroke-width="1.1"/>
<path d="M223.5 392.7L225.4 392.7" stroke="#000" stroke-width="1.1"/>
<path d="M224.68 462.6L335 462.6" stroke="#000" stroke-width="1.45"/>
<path d="M233 462.6L233 466" stroke="#000" stroke-width="1.3"/>
<path d="M244.69 462.6L244.69 466" stroke="#000" stroke-width="1.3"/>
<path d="M256.38 462.6L256.38 466" stroke="#000" stroke-width="1.3"/>
<path d="M268.07 462.6L268.07 466" stroke="#000" stroke-width="1.3"/>
<path d="M279.76 462.6L279.76 466" stroke="#000" stroke-width="1.3"/>
<path d="M291.45 462.6L291.45 466" stroke="#000" stroke-width="1.3"/>
<path d="M303.14 462.6L303.14 466" stroke="#000" stroke-width="1.3"/>
<path d="M314.83 462.6L314.83 466" stroke="#000" stroke-width="1.3"/>
<path d="M326.52 462.6L326.52 466" stroke="#000" stroke-width="1.3"/>
<rect x="252.68" y="395.35" width="7.4" height="67.25" fill="#aa032c" stroke="#5c0716" stroke-width="0.7"/>
<path d="M256.38 395.5L256.38 392.4" stroke="#000" stroke-width="1.35"/>
<path d="M254.35 392.4L258.4 392.4" stroke="#000" stroke-width="1.35"/>
<rect x="264.37" y="426.95" width="7.4" height="35.65" fill="#aa032c" stroke="#5c0716" stroke-width="0.7"/>
<path d="M268.07 427.1L268.07 423.6" stroke="#000" stroke-width="1.35"/>
<path d="M266.05 423.6L270.09 423.6" stroke="#000" stroke-width="1.35"/>
<rect x="276.06" y="399.25" width="7.4" height="63.35" fill="#aa032c" stroke="#5c0716" stroke-width="0.7"/>
<path d="M279.76 399.4L279.76 397.2" stroke="#000" stroke-width="1.35"/>
<path d="M277.74 397.2L281.78 397.2" stroke="#000" stroke-width="1.35"/>
<rect x="287.75" y="424.65" width="7.4" height="37.95" fill="#aa032c" stroke="#5c0716" stroke-width="0.7"/>
<path d="M291.45 424.8L291.45 420.3" stroke="#000" stroke-width="1.35"/>
<path d="M289.43 420.3L293.47 420.3" stroke="#000" stroke-width="1.35"/>
<rect x="299.44" y="404.55" width="7.4" height="58.05" fill="#aa032c" stroke="#5c0716" stroke-width="0.7"/>
<path d="M303.14 404.7L303.14 400.5" stroke="#000" stroke-width="1.35"/>
<path d="M301.12 400.5L305.16 400.5" stroke="#000" stroke-width="1.35"/>
<rect x="311.13" y="403.85" width="7.4" height="58.75" fill="#aa032c" stroke="#5c0716" stroke-width="0.7"/>
<path d="M314.83 404L314.83 401.9" stroke="#000" stroke-width="1.35"/>
<path d="M312.81 401.9L316.85 401.9" stroke="#000" stroke-width="1.35"/>
<rect x="322.82" y="425.75" width="7.4" height="36.85" fill="#aa032c" stroke="#5c0716" stroke-width="0.7"/>
<path d="M326.52 425.9L326.52 424.7" stroke="#000" stroke-width="1.35"/>
<path d="M324.5 424.7L328.54 424.7" stroke="#000" stroke-width="1.35"/>
<text transform="translate(235.4 469) rotate(-90)" font-size="7" text-anchor="end" textLength="15" lengthAdjust="spacingAndGlyphs">Con</text>
<text transform="translate(247.09 469) rotate(-90)" font-size="7" text-anchor="end" textLength="16.7" lengthAdjust="spacingAndGlyphs">FVIIa</text>
<text transform="translate(258.78 469) rotate(-90)" font-size="7" text-anchor="end" textLength="15" lengthAdjust="spacingAndGlyphs">Con</text>
<text transform="translate(270.47 469) rotate(-90)" font-size="7" text-anchor="end" textLength="16.7" lengthAdjust="spacingAndGlyphs">FVIIa</text>
<text transform="translate(282.16 469) rotate(-90)" font-size="7" text-anchor="end" textLength="22.5" lengthAdjust="spacingAndGlyphs">scRNA</text>
<text transform="translate(293.85 469) rotate(-90)" font-size="7" text-anchor="end" textLength="42.7" lengthAdjust="spacingAndGlyphs">scRNA/FVIIa</text>
<text transform="translate(305.54 469) rotate(-90)" font-size="7" text-anchor="end" textLength="61.7" lengthAdjust="spacingAndGlyphs">EPCR siRNA/FVIIa</text>
<text transform="translate(317.23 469) rotate(-90)" font-size="7" text-anchor="end" textLength="63.5" lengthAdjust="spacingAndGlyphs">PAR1 siRNA//FVIIa</text>
<text transform="translate(328.92 469) rotate(-90)" font-size="7" text-anchor="end" textLength="60.6" lengthAdjust="spacingAndGlyphs">PAR2 siRNA/FVIIa</text>
<path d="M257.3 536.2L332.4 536.2" stroke="#000" stroke-width="1.2"/>
<text x="294.3" y="545.4" font-size="7" text-anchor="middle">TNF&#945;</text>
<path d="M265.4 416.5V382.7H312.3V395.3" stroke="#000" stroke-width="1.3" fill="none"/>
<path d="M301.2 395.3L321.5 395.3" stroke="#000" stroke-width="1.3"/>
<path d="M268.8 422V389.1H292V418.7" stroke="#000" stroke-width="1.3" fill="none"/>
<text x="288.5" y="382.26" font-size="5.8" font-weight="bold" text-anchor="middle" textLength="6.6" lengthAdjust="spacing">**</text>
<text x="280.4" y="387.6" font-size="6.3" text-anchor="middle">ns</text>
</g>
<g>
<text transform="translate(350.95 376.25) scale(1.262 1)" font-size="11.88" font-weight="bold" style="stroke-width:0.55px">I</text>
<text transform="translate(360.4 424) rotate(-90)" font-size="8.5" text-anchor="middle" textLength="44.3" lengthAdjust="spacingAndGlyphs">VCAM-1 (RE)</text>
<path d="M385.7 385.8L385.7 463.43" stroke="#000" stroke-width="1.45"/>
<path d="M382.4 462.7L385.7 462.7" stroke="#000" stroke-width="1.2"/>
<text x="379.8" y="465.22" font-size="7" text-anchor="end">0</text>
<path d="M382.4 444.16L385.7 444.16" stroke="#000" stroke-width="1.2"/>
<text x="379.8" y="446.68" font-size="7" text-anchor="end">200</text>
<path d="M382.4 425.62L385.7 425.62" stroke="#000" stroke-width="1.2"/>
<text x="379.8" y="428.14" font-size="7" text-anchor="end">400</text>
<path d="M382.4 407.08L385.7 407.08" stroke="#000" stroke-width="1.2"/>
<text x="379.8" y="409.6" font-size="7" text-anchor="end">600</text>
<path d="M382.4 388.54L385.7 388.54" stroke="#000" stroke-width="1.2"/>
<text x="379.8" y="391.06" font-size="7" text-anchor="end">800</text>
<path d="M383.8 453.43L385.7 453.43" stroke="#000" stroke-width="1.1"/>
<path d="M383.8 434.89L385.7 434.89" stroke="#000" stroke-width="1.1"/>
<path d="M383.8 416.35L385.7 416.35" stroke="#000" stroke-width="1.1"/>
<path d="M383.8 397.81L385.7 397.81" stroke="#000" stroke-width="1.1"/>
<path d="M384.97 462.7L495.8 462.7" stroke="#000" stroke-width="1.45"/>
<path d="M394.2 462.7L394.2 466.1" stroke="#000" stroke-width="1.3"/>
<path d="M406.1 462.7L406.1 466.1" stroke="#000" stroke-width="1.3"/>
<path d="M418 462.7L418 466.1" stroke="#000" stroke-width="1.3"/>
<path d="M429.9 462.7L429.9 466.1" stroke="#000" stroke-width="1.3"/>
<path d="M441.8 462.7L441.8 466.1" stroke="#000" stroke-width="1.3"/>
<path d="M453.7 462.7L453.7 466.1" stroke="#000" stroke-width="1.3"/>
<path d="M465.6 462.7L465.6 466.1" stroke="#000" stroke-width="1.3"/>
<path d="M477.5 462.7L477.5 466.1" stroke="#000" stroke-width="1.3"/>
<path d="M489.4 462.7L489.4 466.1" stroke="#000" stroke-width="1.3"/>
<rect x="414.2" y="395.75" width="7.6" height="66.95" fill="#aa032c" stroke="#5c0716" stroke-width="0.7"/>
<path d="M418 395.9L418 391.2" stroke="#000" stroke-width="1.35"/>
<path d="M415.93 391.2L420.07 391.2" stroke="#000" stroke-width="1.35"/>
<rect x="426.1" y="431.05" width="7.6" height="31.65" fill="#aa032c" stroke="#5c0716" stroke-width="0.7"/>
<path d="M429.9 431.2L429.9 425.4" stroke="#000" stroke-width="1.35"/>
<path d="M427.82 425.4L431.97 425.4" stroke="#000" stroke-width="1.35"/>
<rect x="438" y="399.25" width="7.6" height="63.45" fill="#aa032c" stroke="#5c0716" stroke-width="0.7"/>
<path d="M441.8 399.4L441.8 396.6" stroke="#000" stroke-width="1.35"/>
<path d="M439.73 396.6L443.88 396.6" stroke="#000" stroke-width="1.35"/>
<rect x="449.9" y="433.15" width="7.6" height="29.55" fill="#aa032c" stroke="#5c0716" stroke-width="0.7"/>
<path d="M453.7 433.3L453.7 429.6" stroke="#000" stroke-width="1.35"/>
<path d="M451.62 429.6L455.77 429.6" stroke="#000" stroke-width="1.35"/>
<rect x="461.8" y="403.85" width="7.6" height="58.85" fill="#aa032c" stroke="#5c0716" stroke-width="0.7"/>
<path d="M465.6 404L465.6 400" stroke="#000" stroke-width="1.35"/>
<path d="M463.53 400L467.68 400" stroke="#000" stroke-width="1.35"/>
<rect x="473.7" y="400.85" width="7.6" height="61.85" fill="#aa032c" stroke="#5c0716" stroke-width="0.7"/>
<path d="M477.5 401L477.5 397.3" stroke="#000" stroke-width="1.35"/>
<path d="M475.43 397.3L479.57 397.3" stroke="#000" stroke-width="1.35"/>
<rect x="485.6" y="432.75" width="7.6" height="29.95" fill="#aa032c" stroke="#5c0716" stroke-width="0.7"/>
<path d="M489.4 432.9L489.4 428.9" stroke="#000" stroke-width="1.35"/>
<path d="M487.32 428.9L491.47 428.9" stroke="#000" stroke-width="1.35"/>
<text transform="translate(396.6 469) rotate(-90)" font-size="7" text-anchor="end" textLength="15" lengthAdjust="spacingAndGlyphs">Con</text>
<text transform="translate(408.5 469) rotate(-90)" font-size="7" text-anchor="end" textLength="16.7" lengthAdjust="spacingAndGlyphs">FVIIa</text>
<text transform="translate(420.4 469) rotate(-90)" font-size="7" text-anchor="end" textLength="15" lengthAdjust="spacingAndGlyphs">Con</text>
<text transform="translate(432.3 469) rotate(-90)" font-size="7" text-anchor="end" textLength="16.7" lengthAdjust="spacingAndGlyphs">FVIIa</text>
<text transform="translate(444.2 469) rotate(-90)" font-size="7" text-anchor="end" textLength="22.5" lengthAdjust="spacingAndGlyphs">scRNA</text>
<text transform="translate(456.1 469) rotate(-90)" font-size="7" text-anchor="end" textLength="42.7" lengthAdjust="spacingAndGlyphs">scRNA/FVIIa</text>
<text transform="translate(468 469) rotate(-90)" font-size="7" text-anchor="end" textLength="61.7" lengthAdjust="spacingAndGlyphs">EPCR siRNA/FVIIa</text>
<text transform="translate(479.9 469) rotate(-90)" font-size="7" text-anchor="end" textLength="63.5" lengthAdjust="spacingAndGlyphs">PAR1 siRNA//FVIIa</text>
<text transform="translate(491.8 469) rotate(-90)" font-size="7" text-anchor="end" textLength="60.6" lengthAdjust="spacingAndGlyphs">PAR2 siRNA/FVIIa</text>
<path d="M422.4 535.7L499.3 535.7" stroke="#000" stroke-width="1.2"/>
<text x="460" y="545.4" font-size="7" text-anchor="middle">TNF&#945;</text>
<path d="M425.4 422V387.2H472.8V394.2" stroke="#000" stroke-width="1.3" fill="none"/>
<path d="M461.7 394.2L482 394.2" stroke="#000" stroke-width="1.3"/>
<path d="M428.7 425V394.2H451.6V422.9" stroke="#000" stroke-width="1.3" fill="none"/>
<text x="448.9" y="386.96" font-size="5.8" font-weight="bold" text-anchor="middle" textLength="6.6" lengthAdjust="spacing">**</text>
<text x="440.5" y="392.3" font-size="6.3" text-anchor="middle">ns</text>
</g>
<g>
<text transform="translate(10.21 566.05) scale(1.143 1)" font-size="12.03" font-weight="bold" style="stroke-width:0.55px">J</text>
<text x="81.9" y="590.2" font-size="7.2" text-anchor="middle" textLength="20.4" lengthAdjust="spacingAndGlyphs">siRNA</text>
<path d="M51.2 594.4L112.9 594.4" stroke="#000" stroke-width="1.2"/>
<text transform="translate(61.1 627.2) rotate(-90)" font-size="7.2" textLength="14.4" lengthAdjust="spacingAndGlyphs">Con</text>
<text transform="translate(79.2 627.2) rotate(-90)" font-size="7.2" textLength="22.1" lengthAdjust="spacingAndGlyphs">&#946;-AR-1</text>
<text transform="translate(95.3 627.2) rotate(-90)" font-size="7.2" textLength="22.1" lengthAdjust="spacingAndGlyphs">&#946;-AR-2</text>
<text transform="translate(112.6 627.2) rotate(-90)" font-size="7.2" textLength="30.6" lengthAdjust="spacingAndGlyphs">&#946;-AR-1/2</text>
<rect x="46.8" y="631.1" width="75.8" height="14.6" fill="#cacaca"/>
<rect x="46.8" y="648.8" width="75.8" height="16.1" fill="#c6c6c6"/>
<g filter="url(#bl90)">
<rect x="52.6" y="637" width="13.8" height="4.4" rx="1.6" fill="#141414"/>
<rect x="70.2" y="637.8" width="11.6" height="3" rx="1.4" fill="#8e8e8e"/>
<rect x="85.8" y="636.8" width="15" height="4.8" rx="1.6" fill="#101010"/>
<path d="M104.2 640.6L104.6 638.6Q110 637.8 116.6 636.8L117.2 639.2Q111 640.6 104.2 640.6Z" fill="#505050"/>
<rect x="51.6" y="655.3" width="15.2" height="4.4" rx="1.6" fill="#0c0c0c"/>
<rect x="68.9" y="656.2" width="13.7" height="4.1" rx="1.6" fill="#0e0e0e"/>
<rect x="85.4" y="654.8" width="15" height="5.8" rx="1.6" fill="#0a0a0a"/>
<rect x="103.2" y="654.4" width="14.4" height="4.4" rx="1.6" fill="#0e0e0e"/>
</g>
<text x="126.8" y="640" font-size="7.4" textLength="23" lengthAdjust="spacingAndGlyphs">&#946;-AR-1</text>
<text x="126.8" y="658.6" font-size="7.6" textLength="17.2" lengthAdjust="spacingAndGlyphs">Actin</text>
<text transform="translate(16.8 708.2) rotate(-90)" font-size="8.6" text-anchor="middle" textLength="68.6" lengthAdjust="spacingAndGlyphs">&#946;-arrestin-1/&#946;-actin</text>
<path d="M40.8 681.8L40.8 736.52" stroke="#000" stroke-width="1.45"/>
<path d="M37.5 735.8L40.8 735.8" stroke="#000" stroke-width="1.2"/>
<text x="33.7" y="738.54" font-size="7.6" text-anchor="end">0.0</text>
<path d="M37.5 725.58L40.8 725.58" stroke="#000" stroke-width="1.2"/>
<text x="33.7" y="728.32" font-size="7.6" text-anchor="end">0.2</text>
<path d="M37.5 715.36L40.8 715.36" stroke="#000" stroke-width="1.2"/>
<text x="33.7" y="718.1" font-size="7.6" text-anchor="end">0.4</text>
<path d="M37.5 705.14L40.8 705.14" stroke="#000" stroke-width="1.2"/>
<text x="33.7" y="707.88" font-size="7.6" text-anchor="end">0.6</text>
<path d="M37.5 694.92L40.8 694.92" stroke="#000" stroke-width="1.2"/>
<text x="33.7" y="697.66" font-size="7.6" text-anchor="end">0.8</text>
<path d="M37.5 684.7L40.8 684.7" stroke="#000" stroke-width="1.2"/>
<text x="33.7" y="687.44" font-size="7.6" text-anchor="end">1.0</text>
<path d="M39.98 735.8L125.8 735.8" stroke="#000" stroke-width="1.45"/>
<path d="M51.1 735.8L51.1 739.2" stroke="#000" stroke-width="1.3"/>
<path d="M72.3 735.8L72.3 739.2" stroke="#000" stroke-width="1.3"/>
<path d="M93.6 735.8L93.6 739.2" stroke="#000" stroke-width="1.3"/>
<path d="M114.7 735.8L114.7 739.2" stroke="#000" stroke-width="1.3"/>
<rect x="44.1" y="694.95" width="14" height="40.85" fill="#aa032c" stroke="#5c0716" stroke-width="0.7"/>
<path d="M51.1 695.1L51.1 692.3" stroke="#000" stroke-width="1.35"/>
<path d="M47.43 692.3L54.77 692.3" stroke="#000" stroke-width="1.35"/>
<rect x="65.3" y="724.65" width="14" height="11.15" fill="#aa032c" stroke="#5c0716" stroke-width="0.7"/>
<path d="M72.3 724.8L72.3 722.6" stroke="#000" stroke-width="1.35"/>
<path d="M68.62 722.6L75.97 722.6" stroke="#000" stroke-width="1.35"/>
<rect x="86.6" y="699.95" width="14" height="35.85" fill="#aa032c" stroke="#5c0716" stroke-width="0.7"/>
<path d="M93.6 700.1L93.6 699" stroke="#000" stroke-width="1.35"/>
<path d="M89.92 699L97.27 699" stroke="#000" stroke-width="1.35"/>
<rect x="107.7" y="724.65" width="14" height="11.15" fill="#aa032c" stroke="#5c0716" stroke-width="0.7"/>
<path d="M114.7 724.8L114.7 722.6" stroke="#000" stroke-width="1.35"/>
<path d="M111.03 722.6L118.38 722.6" stroke="#000" stroke-width="1.35"/>
<path d="M53.6 684.7H114.7V718.3" stroke="#000" stroke-width="1.3" fill="none"/>
<path d="M50.3 690.4H71.9V718.3" stroke="#000" stroke-width="1.3" fill="none"/>
<text x="84.1" y="685.36" font-size="5.8" font-weight="bold" text-anchor="middle" textLength="9.3" lengthAdjust="spacing">***</text>
<text x="60.8" y="691.36" font-size="5.8" font-weight="bold" text-anchor="middle" textLength="9" lengthAdjust="spacing">***</text>
<text transform="translate(53.6 742.6) rotate(-90)" font-size="7.2" text-anchor="end" textLength="14.5" lengthAdjust="spacingAndGlyphs">Con</text>
<text transform="translate(75.6 742.6) rotate(-90)" font-size="7.2" text-anchor="end" textLength="24.3" lengthAdjust="spacingAndGlyphs">&#946;-AR-1</text>
<text transform="translate(96.4 742.6) rotate(-90)" font-size="7.2" text-anchor="end" textLength="24.3" lengthAdjust="spacingAndGlyphs">&#946;-AR-2</text>
<text transform="translate(117.6 742.6) rotate(-90)" font-size="7.2" text-anchor="end" textLength="30.8" lengthAdjust="spacingAndGlyphs">&#946;-AR-1/2</text>
<path d="M50.3 776.5L116.6 776.5" stroke="#000" stroke-width="1.2"/>
<text x="83.3" y="788.2" font-size="7.4" text-anchor="middle" textLength="20.8" lengthAdjust="spacingAndGlyphs">siRNA</text>
</g>
<g>
<text transform="translate(170.29 565.45) scale(0.924 1)" font-size="13.77" font-weight="bold" style="stroke-width:0.55px">K</text>
<text x="243.4" y="592.8" font-size="7.2" text-anchor="middle" textLength="21.6" lengthAdjust="spacingAndGlyphs">siRNA</text>
<path d="M212.6 596.1L274.4 596.1" stroke="#000" stroke-width="1.2"/>
<text transform="translate(223.1 630.2) rotate(-90)" font-size="7.2" textLength="15.3" lengthAdjust="spacingAndGlyphs">Con</text>
<text transform="translate(242.4 630.2) rotate(-90)" font-size="7.2" textLength="23.5" lengthAdjust="spacingAndGlyphs">&#946;-AR-1</text>
<text transform="translate(258.6 630.2) rotate(-90)" font-size="7.2" textLength="23.5" lengthAdjust="spacingAndGlyphs">&#946;-AR-2</text>
<text transform="translate(276.3 630.2) rotate(-90)" font-size="7.2" textLength="30.8" lengthAdjust="spacingAndGlyphs">&#946;-AR-1/2</text>
<rect x="208.4" y="632.4" width="78.5" height="15.5" fill="#e2e2e2"/>
<rect x="208.4" y="650.2" width="78.5" height="15.4" fill="#e0e0e0"/>
<g filter="url(#bl150)">
<rect x="211" y="635" width="74" height="10" fill="#cccccc"/>
<rect x="211" y="653" width="74" height="10" fill="#cfcfcf"/>
</g>
<g filter="url(#bl90)">
<path d="M212.0 640.0Q213.5 638.2 220 638.6L228.8 638.4L229.2 641.2Q222 641.4 219 642.2Q217.5 644.8 215.4 645.0Q212.4 643.6 212.0 640.0Z" fill="#121212"/>
<path d="M234.0 643.6Q234.6 639.6 240 639.4Q245.8 639.6 246.2 643.8L246.0 645.0Q240 643.0 234.2 645.0Z" fill="#181818"/>
<path d="M251.6 643.0Q252.4 640.6 257.6 640.6Q263 640.6 263.6 643.0L263.4 644.0Q257.6 642.8 251.8 644.0Z" fill="#7a7a7a"/>
<path d="M269.4 643.0Q269.6 637.4 276 636.4Q282 636.0 283.4 638.6L283.4 641.0Q277 639.4 273.6 641.0Q272 643.6 270.2 644.0Z" fill="#2e2e2e"/>
<path d="M211.4 657.6Q214 655.6 220 656.4Q226 656.8 228.4 655.0L228.4 658.6Q224 660.8 218 660.6Q214 661.8 211.6 660.2Z" fill="#0c0c0c"/>
<path d="M231.6 657.6Q232.6 655.8 239 656.4Q245 655.8 246.4 657.4L246.4 660.6Q239 660.0 231.8 661.0Z" fill="#0c0c0c"/>
<path d="M249.8 657.8Q251 656.4 257 656.8Q263 656.2 264.8 657.8L264.6 660.4Q257 659.8 250.0 661.0Z" fill="#0e0e0e"/>
<path d="M268.4 658.0Q270 655.8 276 655.4Q282 654.2 284.6 655.2L284.6 658.6Q278 658.4 273 660.2Q270 660.8 268.6 660.2Z" fill="#0c0c0c"/>
</g>
<text x="291" y="643.3" font-size="7.4" textLength="23.2" lengthAdjust="spacingAndGlyphs">&#946;-AR-2</text>
<text x="291" y="661.7" font-size="7.6" textLength="17.5" lengthAdjust="spacingAndGlyphs">Actin</text>
<text transform="translate(181.6 709) rotate(-90)" font-size="8.6" text-anchor="middle" textLength="68.1" lengthAdjust="spacingAndGlyphs">&#946;-arrestin-2/&#946;-actin</text>
<path d="M205.4 682.3L205.4 736.52" stroke="#000" stroke-width="1.45"/>
<path d="M202.1 735.8L205.4 735.8" stroke="#000" stroke-width="1.2"/>
<text x="198.7" y="738.54" font-size="7.6" text-anchor="end">0.0</text>
<path d="M202.1 725.78L205.4 725.78" stroke="#000" stroke-width="1.2"/>
<text x="198.7" y="728.52" font-size="7.6" text-anchor="end">0.2</text>
<path d="M202.1 715.76L205.4 715.76" stroke="#000" stroke-width="1.2"/>
<text x="198.7" y="718.5" font-size="7.6" text-anchor="end">0.4</text>
<path d="M202.1 705.74L205.4 705.74" stroke="#000" stroke-width="1.2"/>
<text x="198.7" y="708.48" font-size="7.6" text-anchor="end">0.6</text>
<path d="M202.1 695.72L205.4 695.72" stroke="#000" stroke-width="1.2"/>
<text x="198.7" y="698.46" font-size="7.6" text-anchor="end">0.8</text>
<path d="M202.1 685.7L205.4 685.7" stroke="#000" stroke-width="1.2"/>
<text x="198.7" y="688.44" font-size="7.6" text-anchor="end">1.0</text>
<path d="M204.68 735.8L288 735.8" stroke="#000" stroke-width="1.45"/>
<path d="M215.6 735.8L215.6 739.2" stroke="#000" stroke-width="1.3"/>
<path d="M236.3 735.8L236.3 739.2" stroke="#000" stroke-width="1.3"/>
<path d="M257.3 735.8L257.3 739.2" stroke="#000" stroke-width="1.3"/>
<path d="M277.4 735.8L277.4 739.2" stroke="#000" stroke-width="1.3"/>
<rect x="208.7" y="687.85" width="13.8" height="47.95" fill="#aa032c" stroke="#5c0716" stroke-width="0.7"/>
<path d="M215.6 688L215.6 685.8" stroke="#000" stroke-width="1.35"/>
<path d="M211.97 685.8L219.22 685.8" stroke="#000" stroke-width="1.35"/>
<rect x="229.4" y="691.75" width="13.8" height="44.05" fill="#aa032c" stroke="#5c0716" stroke-width="0.7"/>
<path d="M236.3 691.9L236.3 690.4" stroke="#000" stroke-width="1.35"/>
<path d="M232.68 690.4L239.93 690.4" stroke="#000" stroke-width="1.35"/>
<rect x="250.4" y="719.45" width="13.8" height="16.35" fill="#aa032c" stroke="#5c0716" stroke-width="0.7"/>
<path d="M257.3 719.6L257.3 716.5" stroke="#000" stroke-width="1.35"/>
<path d="M253.68 716.5L260.93 716.5" stroke="#000" stroke-width="1.35"/>
<rect x="270.5" y="716.55" width="13.8" height="19.25" fill="#aa032c" stroke="#5c0716" stroke-width="0.7"/>
<path d="M277.4 716.7L277.4 714.4" stroke="#000" stroke-width="1.35"/>
<path d="M273.77 714.4L281.02 714.4" stroke="#000" stroke-width="1.35"/>
<path d="M215.6 686.2V684.1H278.7V708.7" stroke="#000" stroke-width="1.6" fill="none"/>
<path d="M258.8 684.1L258.8 708.7" stroke="#000" stroke-width="1.2"/>
<text x="258.4" y="683.16" font-size="5.8" font-weight="bold" text-anchor="middle" textLength="6.6" lengthAdjust="spacing">**</text>
<text x="236.8" y="692.16" font-size="5.8" font-weight="bold" text-anchor="middle" textLength="6.6" lengthAdjust="spacing">**</text>
<text transform="translate(218.6 742.6) rotate(-90)" font-size="7.2" text-anchor="end" textLength="14.5" lengthAdjust="spacingAndGlyphs">Con</text>
<text transform="translate(240.8 742.6) rotate(-90)" font-size="7.2" text-anchor="end" textLength="24.3" lengthAdjust="spacingAndGlyphs">&#946;-AR-1</text>
<text transform="translate(261.4 742.6) rotate(-90)" font-size="7.2" text-anchor="end" textLength="24.3" lengthAdjust="spacingAndGlyphs">&#946;-AR-2</text>
<text transform="translate(282.7 742.6) rotate(-90)" font-size="7.2" text-anchor="end" textLength="30.8" lengthAdjust="spacingAndGlyphs">&#946;-AR-1/2</text>
<path d="M215.4 776.5L281.6 776.5" stroke="#000" stroke-width="1.2"/>
<text x="248.2" y="788.2" font-size="7.4" text-anchor="middle" textLength="21.4" lengthAdjust="spacingAndGlyphs">siRNA</text>
</g>
<g>
<text transform="translate(334.87 565.25) scale(0.730 1)" font-size="13.19" font-weight="bold" style="stroke-width:0.55px">L</text>
<text x="386.3" y="574.4" font-size="7.2" text-anchor="middle" textLength="15" lengthAdjust="spacingAndGlyphs">Con</text>
<text x="412.5" y="574.4" font-size="7.2" text-anchor="middle" textLength="23" lengthAdjust="spacingAndGlyphs">&#946;-AR-1</text>
<text x="437" y="574.4" font-size="7.2" text-anchor="middle" textLength="23.1" lengthAdjust="spacingAndGlyphs">&#946;-AR-2</text>
<text x="482" y="574.4" font-size="7.2" text-anchor="middle" textLength="54" lengthAdjust="spacingAndGlyphs">&#946;-AR-1/2 siRNA</text>
<path d="M375 577.9L398.1 577.9" stroke="#000" stroke-width="1.2"/>
<path d="M401 577.9L424 577.9" stroke="#000" stroke-width="1.2"/>
<path d="M425.5 577.9L449.2 577.9" stroke="#000" stroke-width="1.2"/>
<path d="M450.9 577.9L474.5 577.9" stroke="#000" stroke-width="1.2"/>
<text transform="translate(380.6 626.3) rotate(-90)" font-size="7" textLength="14.5" lengthAdjust="spacingAndGlyphs">Con</text>
<text transform="translate(389.2 626.3) rotate(-90)" font-size="7" textLength="18.5" lengthAdjust="spacingAndGlyphs">TNF&#945;</text>
<text transform="translate(397.3 626.3) rotate(-90)" font-size="7" textLength="44.4" lengthAdjust="spacingAndGlyphs">FVIIa + TNF&#945;</text>
<text transform="translate(406.5 626.3) rotate(-90)" font-size="7" textLength="14.5" lengthAdjust="spacingAndGlyphs">Con</text>
<text transform="translate(415.2 626.3) rotate(-90)" font-size="7" textLength="18.5" lengthAdjust="spacingAndGlyphs">TNF&#945;</text>
<text transform="translate(423 626.3) rotate(-90)" font-size="7" textLength="44.4" lengthAdjust="spacingAndGlyphs">FVIIa + TNF&#945;</text>
<text transform="translate(430 626.3) rotate(-90)" font-size="7" textLength="14.5" lengthAdjust="spacingAndGlyphs">Con</text>
<text transform="translate(438.9 626.3) rotate(-90)" font-size="7" textLength="18.5" lengthAdjust="spacingAndGlyphs">TNF&#945;</text>
<text transform="translate(446.5 626.3) rotate(-90)" font-size="7" textLength="44.4" lengthAdjust="spacingAndGlyphs">FVIIa + TNF&#945;</text>
<text transform="translate(455.4 626.3) rotate(-90)" font-size="7" textLength="14.5" lengthAdjust="spacingAndGlyphs">Con</text>
<text transform="translate(464.3 626.3) rotate(-90)" font-size="7" textLength="18.5" lengthAdjust="spacingAndGlyphs">TNF&#945;</text>
<text transform="translate(471 626.3) rotate(-90)" font-size="7" textLength="44.4" lengthAdjust="spacingAndGlyphs">FVIIa + TNF&#945;</text>
<rect x="368.2" y="628.9" width="111.6" height="14.3" fill="#c2c2c2"/>
<rect x="368.2" y="644.6" width="111.6" height="10.8" fill="#c8c8c8"/>
<g filter="url(#bl50)">
<rect x="384.5" y="634.6" width="6.8" height="5.4" rx="1.2" fill="#1c1c1c"/>
<rect x="392.4" y="634.6" width="6.8" height="5.4" rx="1.2" fill="#7c7c7c"/>
<rect x="408" y="634.6" width="7.5" height="5.4" rx="1.2" fill="#141414"/>
<rect x="416.3" y="634.6" width="7.5" height="5.4" rx="1.2" fill="#101010"/>
<rect x="432.5" y="634.6" width="7" height="5.4" rx="1.2" fill="#202020"/>
<rect x="440.5" y="634.6" width="7" height="5.4" rx="1.2" fill="#a4a4a4"/>
<rect x="457" y="634.6" width="7.5" height="5.4" rx="1.2" fill="#181818"/>
<rect x="465" y="634.6" width="7" height="5.4" rx="1.2" fill="#141414"/>
<rect x="373.1" y="649.3" width="7.8" height="3.8" rx="1.5" fill="#121212"/>
<rect x="381.57" y="649.3" width="7.8" height="3.8" rx="1.5" fill="#121212"/>
<rect x="390.04" y="649.3" width="7.8" height="3.8" rx="1.5" fill="#121212"/>
<rect x="398.51" y="649.3" width="7.8" height="3.8" rx="1.5" fill="#121212"/>
<rect x="406.98" y="649.3" width="7.8" height="3.8" rx="1.5" fill="#121212"/>
<rect x="415.45" y="649.3" width="7.8" height="3.8" rx="1.5" fill="#121212"/>
<rect x="423.92" y="649.3" width="7.8" height="3.8" rx="1.5" fill="#121212"/>
<rect x="432.39" y="649.3" width="7.8" height="3.8" rx="1.5" fill="#121212"/>
<rect x="440.86" y="649.3" width="7.8" height="3.8" rx="1.5" fill="#121212"/>
<rect x="449.33" y="649.3" width="7.8" height="3.8" rx="1.5" fill="#121212"/>
<rect x="457.8" y="649.3" width="7.8" height="3.8" rx="1.5" fill="#121212"/>
<rect x="466.27" y="649.3" width="7.8" height="3.8" rx="1.5" fill="#121212"/>
</g>
<text x="483" y="639.6" font-size="7.4" textLength="27.4" lengthAdjust="spacingAndGlyphs">VCAM-1</text>
<text x="483.5" y="653" font-size="7.4" textLength="16.3" lengthAdjust="spacingAndGlyphs">Actin</text>
<text transform="translate(344 698.4) rotate(-90)" font-size="8.6" text-anchor="middle" textLength="55" lengthAdjust="spacingAndGlyphs">VCAM-1/&#946;-actin</text>
<path d="M367.4 660.5L367.4 736.73" stroke="#000" stroke-width="1.45"/>
<path d="M364.1 736L367.4 736" stroke="#000" stroke-width="1.2"/>
<text x="360.9" y="738.74" font-size="7.6" text-anchor="end">0.0</text>
<path d="M364.1 711.9L367.4 711.9" stroke="#000" stroke-width="1.2"/>
<text x="360.9" y="714.64" font-size="7.6" text-anchor="end">0.5</text>
<path d="M364.1 687.8L367.4 687.8" stroke="#000" stroke-width="1.2"/>
<text x="360.9" y="690.54" font-size="7.6" text-anchor="end">1.0</text>
<path d="M364.1 663.7L367.4 663.7" stroke="#000" stroke-width="1.2"/>
<text x="360.9" y="666.44" font-size="7.6" text-anchor="end">1.5</text>
<path d="M365.5 731.18L367.4 731.18" stroke="#000" stroke-width="1.1"/>
<path d="M365.5 726.36L367.4 726.36" stroke="#000" stroke-width="1.1"/>
<path d="M365.5 721.54L367.4 721.54" stroke="#000" stroke-width="1.1"/>
<path d="M365.5 716.72L367.4 716.72" stroke="#000" stroke-width="1.1"/>
<path d="M365.5 707.08L367.4 707.08" stroke="#000" stroke-width="1.1"/>
<path d="M365.5 702.26L367.4 702.26" stroke="#000" stroke-width="1.1"/>
<path d="M365.5 697.44L367.4 697.44" stroke="#000" stroke-width="1.1"/>
<path d="M365.5 692.62L367.4 692.62" stroke="#000" stroke-width="1.1"/>
<path d="M365.5 682.98L367.4 682.98" stroke="#000" stroke-width="1.1"/>
<path d="M365.5 678.16L367.4 678.16" stroke="#000" stroke-width="1.1"/>
<path d="M365.5 673.34L367.4 673.34" stroke="#000" stroke-width="1.1"/>
<path d="M365.5 668.52L367.4 668.52" stroke="#000" stroke-width="1.1"/>
<path d="M366.67 736L477.8 736" stroke="#000" stroke-width="1.45"/>
<path d="M371.1 736L371.1 739.4" stroke="#000" stroke-width="1.3"/>
<path d="M378.4 736L378.4 739.4" stroke="#000" stroke-width="1.3"/>
<path d="M385.7 736L385.7 739.4" stroke="#000" stroke-width="1.3"/>
<path d="M393 736L393 739.4" stroke="#000" stroke-width="1.3"/>
<path d="M400.3 736L400.3 739.4" stroke="#000" stroke-width="1.3"/>
<path d="M407.6 736L407.6 739.4" stroke="#000" stroke-width="1.3"/>
<path d="M414.9 736L414.9 739.4" stroke="#000" stroke-width="1.3"/>
<path d="M422.2 736L422.2 739.4" stroke="#000" stroke-width="1.3"/>
<path d="M429.5 736L429.5 739.4" stroke="#000" stroke-width="1.3"/>
<path d="M436.8 736L436.8 739.4" stroke="#000" stroke-width="1.3"/>
<path d="M444.1 736L444.1 739.4" stroke="#000" stroke-width="1.3"/>
<path d="M451.4 736L451.4 739.4" stroke="#000" stroke-width="1.3"/>
<path d="M458.7 736L458.7 739.4" stroke="#000" stroke-width="1.3"/>
<path d="M466 736L466 739.4" stroke="#000" stroke-width="1.3"/>
<path d="M473.3 736L473.3 739.4" stroke="#000" stroke-width="1.3"/>
<rect x="375.6" y="689.75" width="5.6" height="46.25" fill="#aa032c" stroke="#5c0716" stroke-width="0.7"/>
<path d="M378.4 689.9L378.4 688" stroke="#000" stroke-width="1.35"/>
<path d="M376.65 688L380.15 688" stroke="#000" stroke-width="1.35"/>
<rect x="382.9" y="720.55" width="5.6" height="15.45" fill="#aa032c" stroke="#5c0716" stroke-width="0.7"/>
<path d="M385.7 720.7L385.7 717.7" stroke="#000" stroke-width="1.35"/>
<path d="M383.95 717.7L387.45 717.7" stroke="#000" stroke-width="1.35"/>
<rect x="404.8" y="680.15" width="5.6" height="55.85" fill="#aa032c" stroke="#5c0716" stroke-width="0.7"/>
<path d="M407.6 680.3L407.6 676.9" stroke="#000" stroke-width="1.35"/>
<path d="M405.85 676.9L409.35 676.9" stroke="#000" stroke-width="1.35"/>
<rect x="412.1" y="675.35" width="5.6" height="60.65" fill="#aa032c" stroke="#5c0716" stroke-width="0.7"/>
<path d="M414.9 675.5L414.9 673.5" stroke="#000" stroke-width="1.35"/>
<path d="M413.15 673.5L416.65 673.5" stroke="#000" stroke-width="1.35"/>
<rect x="434" y="696.15" width="5.6" height="39.85" fill="#aa032c" stroke="#5c0716" stroke-width="0.7"/>
<path d="M436.8 696.3L436.8 694.6" stroke="#000" stroke-width="1.35"/>
<path d="M435.05 694.6L438.55 694.6" stroke="#000" stroke-width="1.35"/>
<rect x="441.3" y="723.35" width="5.6" height="12.65" fill="#aa032c" stroke="#5c0716" stroke-width="0.7"/>
<path d="M444.1 723.5L444.1 721.5" stroke="#000" stroke-width="1.35"/>
<path d="M442.35 721.5L445.85 721.5" stroke="#000" stroke-width="1.35"/>
<rect x="463.2" y="689.15" width="5.6" height="46.85" fill="#aa032c" stroke="#5c0716" stroke-width="0.7"/>
<path d="M466 689.3L466 684.6" stroke="#000" stroke-width="1.35"/>
<path d="M464.25 684.6L467.75 684.6" stroke="#000" stroke-width="1.35"/>
<rect x="470.5" y="678.85" width="5.6" height="57.15" fill="#aa032c" stroke="#5c0716" stroke-width="0.7"/>
<path d="M473.3 679L473.3 676.5" stroke="#000" stroke-width="1.35"/>
<path d="M471.55 676.5L475.05 676.5" stroke="#000" stroke-width="1.35"/>
<path d="M376.2 687V685.2H386.2V707.7" stroke="#000" stroke-width="1.3" fill="none"/>
<text x="380.8" y="685.36" font-size="5.8" font-weight="bold" text-anchor="middle" textLength="9" lengthAdjust="spacing">***</text>
<path d="M437.3 692.5V690.8H445V711.5" stroke="#000" stroke-width="1.3" fill="none"/>
<text x="441.2" y="690.96" font-size="5.8" font-weight="bold" text-anchor="middle" textLength="9" lengthAdjust="spacing">***</text>
<text transform="translate(372.8 742.8) rotate(-90)" font-size="7" text-anchor="end" textLength="13.9" lengthAdjust="spacingAndGlyphs">Con</text>
<text transform="translate(380.1 742.8) rotate(-90)" font-size="7" text-anchor="end" textLength="19.6" lengthAdjust="spacingAndGlyphs">TNF&#945;</text>
<text transform="translate(387.4 742.8) rotate(-90)" font-size="7" text-anchor="end" textLength="45" lengthAdjust="spacingAndGlyphs">FVIIa + TNF&#945;</text>
<text transform="translate(402 742.8) rotate(-90)" font-size="7" text-anchor="end" textLength="11.5" lengthAdjust="spacingAndGlyphs">Col</text>
<text transform="translate(409.3 742.8) rotate(-90)" font-size="7" text-anchor="end" textLength="19.6" lengthAdjust="spacingAndGlyphs">TNF&#945;</text>
<text transform="translate(416.6 742.8) rotate(-90)" font-size="7" text-anchor="end" textLength="45" lengthAdjust="spacingAndGlyphs">FVIIa + TNF&#945;</text>
<text transform="translate(431.2 742.8) rotate(-90)" font-size="7" text-anchor="end" textLength="11.5" lengthAdjust="spacingAndGlyphs">Col</text>
<text transform="translate(438.5 742.8) rotate(-90)" font-size="7" text-anchor="end" textLength="19.6" lengthAdjust="spacingAndGlyphs">TNF&#945;</text>
<text transform="translate(445.8 742.8) rotate(-90)" font-size="7" text-anchor="end" textLength="45" lengthAdjust="spacingAndGlyphs">FVIIa + TNF&#945;</text>
<text transform="translate(460.4 742.8) rotate(-90)" font-size="7" text-anchor="end" textLength="11.5" lengthAdjust="spacingAndGlyphs">Col</text>
<text transform="translate(467.7 742.8) rotate(-90)" font-size="7" text-anchor="end" textLength="19.6" lengthAdjust="spacingAndGlyphs">TNF&#945;</text>
<text transform="translate(475 742.8) rotate(-90)" font-size="7" text-anchor="end" textLength="45" lengthAdjust="spacingAndGlyphs">FVIIa + TNF&#945;</text>
<path d="M362.9 795.5L385.2 795.5" stroke="#000" stroke-width="1.2"/>
<path d="M395.6 795.5L418.5 795.5" stroke="#000" stroke-width="1.2"/>
<path d="M426.4 795.5L449.3 795.5" stroke="#000" stroke-width="1.2"/>
<path d="M456 795.5L478.2 795.5" stroke="#000" stroke-width="1.2"/>
<text x="373.2" y="806.3" font-size="7.4" text-anchor="middle" textLength="14.3" lengthAdjust="spacingAndGlyphs">Con</text>
<text x="406.7" y="806.3" font-size="7.4" text-anchor="middle" textLength="22.3" lengthAdjust="spacingAndGlyphs">&#946;-AR-1</text>
<text x="438" y="806.3" font-size="7.4" text-anchor="middle" textLength="21.3" lengthAdjust="spacingAndGlyphs">&#946;-AR-2</text>
<text x="484.7" y="806.3" font-size="7.4" text-anchor="middle" textLength="53" lengthAdjust="spacingAndGlyphs">&#946;-AR-1/2 siRNA</text>
</g>
</g>
<rect x="0" y="0" width="520" height="1.2" fill="#000"/>
<rect x="0" y="0" width="1.4" height="817" fill="#000"/>
<rect x="518.3" y="0" width="1.7" height="817" fill="#000"/>
<rect x="0" y="814.3" width="520" height="2.7" fill="#000"/>
</svg></body></html>
